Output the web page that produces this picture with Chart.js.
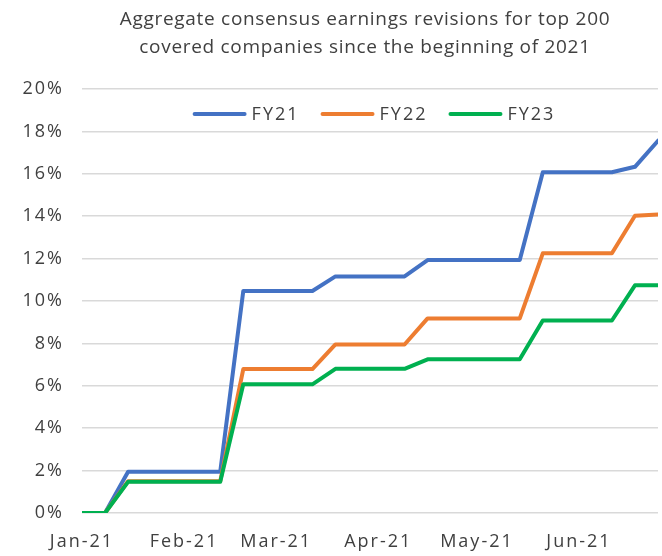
<!DOCTYPE html>
<html>
<head>
<meta charset="utf-8">
<script src="https://cdn.jsdelivr.net/npm/chart.js@4/dist/chart.umd.min.js"></script>
<style>
  html, body { margin: 0; padding: 0; background: #ffffff; }
  #wrap { width: 662px; height: 556px; position: relative; }
</style>
</head>
<body>
<div id="wrap"><canvas id="c" width="662" height="556"></canvas></div>
<script>
// ---- Data ----
const titleLines = ['Aggregate consensus earnings revisions for top 200', 'covered companies since the beginning of 2021'];
const weekDates = ['2021-01-01','2021-01-08','2021-01-15','2021-01-22','2021-01-29','2021-02-05','2021-02-12',
  '2021-02-19','2021-02-26','2021-03-05','2021-03-12','2021-03-19','2021-03-26','2021-04-02','2021-04-09',
  '2021-04-16','2021-04-23','2021-04-30','2021-05-07','2021-05-14','2021-05-21','2021-05-28','2021-06-04',
  '2021-06-11','2021-06-18','2021-06-25'];
const seriesNames = ['FY21', 'FY22', 'FY23'];
const fy21 = [0, 0, 1.95, 1.95, 1.95, 1.95, 1.95, 10.47, 10.47, 10.47, 10.47, 11.16, 11.16, 11.16, 11.16,
  11.93, 11.93, 11.93, 11.93, 11.93, 16.07, 16.07, 16.07, 16.07, 16.33, 17.56];
const fy22 = [0, 0, 1.5, 1.5, 1.5, 1.5, 1.5, 6.79, 6.79, 6.79, 6.79, 7.95, 7.95, 7.95, 7.95,
  9.18, 9.18, 9.18, 9.18, 9.18, 12.25, 12.25, 12.25, 12.25, 14.02, 14.08];
const fy23 = [0, 0, 1.47, 1.47, 1.47, 1.47, 1.47, 6.07, 6.07, 6.07, 6.07, 6.8, 6.8, 6.8, 6.8,
  7.25, 7.25, 7.25, 7.25, 7.25, 9.08, 9.08, 9.08, 9.08, 10.74, 10.74];
const monthTickDates = ['2021-01-01','2021-02-01','2021-03-01','2021-04-01','2021-05-01','2021-06-01'];
const monthTickLabels = ['Jan-21','Feb-21','Mar-21','Apr-21','May-21','Jun-21'];
const yTicks = [0, 2, 4, 6, 8, 10, 12, 14, 16, 18, 20];

// ---- Helpers ----
const DAY = 86400000;
const t0 = Date.parse(weekDates[0]);
const toDay = d => (Date.parse(d) - t0) / DAY;
const pts = arr => weekDates.map((d, i) => ({ x: toDay(d), y: arr[i] }));
const monthTickValues = monthTickDates.map(toDay);

const FONT = '"Open Sans", "Noto Sans", sans-serif';
const TXT = '#404040';
const colors = ['#4472C4', '#ED7D31', '#00B050'];
const values = [fy21, fy22, fy23];

const datasets = seriesNames.map((name, i) => ({
  label: name,
  data: pts(values[i]),
  borderColor: colors[i],
  backgroundColor: colors[i],
  borderWidth: 4,
  pointRadius: 0,
  pointHoverRadius: 0,
  tension: 0,
  borderJoinStyle: 'round',
  borderCapStyle: 'round',
  order: 3 - i
}));

// letter spacing for axis text
const spacingPlugin = {
  id: 'spacing',
  beforeUpdate(chart) { chart.ctx.letterSpacing = '2px'; }
};

// title drawn over the plot area
const titlePlugin = {
  id: 'titleText',
  afterDraw(chart) {
    const ctx = chart.ctx;
    ctx.save();
    ctx.letterSpacing = '0.7px';
    ctx.font = '400 19px ' + FONT;
    ctx.fillStyle = TXT;
    ctx.textAlign = 'center';
    ctx.textBaseline = 'alphabetic';
    const cx = (chart.chartArea.left + chart.chartArea.right) / 2 - 5;
    titleLines.forEach((line, i) => ctx.fillText(line, cx, 25 + i * 28));
    ctx.restore();
  }
};

// legend inside the plot area, one row
const legendPlugin = {
  id: 'rowLegend',
  afterDatasetsDraw(chart) {
    const ctx = chart.ctx;
    const area = chart.chartArea;
    ctx.save();
    ctx.letterSpacing = '2px';
    ctx.font = '400 18px ' + FONT;
    const lineLen = 54, gap = 5, itemGap = 21;
    const widths = chart.data.datasets.map(ds => ctx.measureText(ds.label).width);
    const total = widths.reduce((a, w) => a + lineLen + gap + w, 0) + itemGap * (widths.length - 1);
    let x = (area.left + area.right) / 2 - total / 2 + 4;
    const y = area.top + 25;
    chart.data.datasets.forEach((ds, i) => {
      ctx.strokeStyle = ds.borderColor;
      ctx.lineWidth = 4;
      ctx.lineCap = 'round';
      ctx.beginPath();
      ctx.moveTo(x + 2, y);
      ctx.lineTo(x + lineLen - 2, y);
      ctx.stroke();
      ctx.fillStyle = TXT;
      ctx.textAlign = 'left';
      ctx.textBaseline = 'middle';
      ctx.fillText(ds.label, x + lineLen + gap, y + 1);
      x += lineLen + gap + widths[i] + itemGap;
    });
    ctx.restore();
  }
};

new Chart(document.getElementById('c'), {
  type: 'line',
  data: { datasets },
  plugins: [spacingPlugin, titlePlugin, legendPlugin],
  options: {
    responsive: false,
    animation: false,
    layout: { padding: { left: 0, right: 4, top: 89, bottom: 0 } },
    plugins: {
      title: { display: false },
      legend: { display: false },
      tooltip: { enabled: false }
    },
    scales: {
      x: {
        type: 'linear',
        min: toDay(weekDates[0]),
        max: toDay(weekDates[weekDates.length - 1]),
        afterBuildTicks: axis => { axis.ticks = monthTickValues.map(v => ({ value: v })); },
        afterFit: axis => { axis.height = 43; },
        grid: { display: false, drawTicks: false },
        border: { display: false },
        ticks: {
          autoSkip: false,
          maxRotation: 0,
          padding: 18,
          color: TXT,
          font: { family: FONT, size: 18 },
          callback: v => { const k = monthTickValues.indexOf(v); return k >= 0 ? monthTickLabels[k] : ''; }
        }
      },
      y: {
        min: yTicks[0],
        max: yTicks[yTicks.length - 1],
        afterBuildTicks: axis => { axis.ticks = yTicks.map(v => ({ value: v })); },
        afterFit: axis => { axis.width = 82; },
        grid: { color: '#d9d9d9', lineWidth: 1.5, drawTicks: false },
        border: { display: false },
        ticks: {
          padding: 18,
          color: TXT,
          font: { family: FONT, size: 18 },
          callback: v => v + '%'
        }
      }
    }
  }
});
</script>
</body>
</html>
